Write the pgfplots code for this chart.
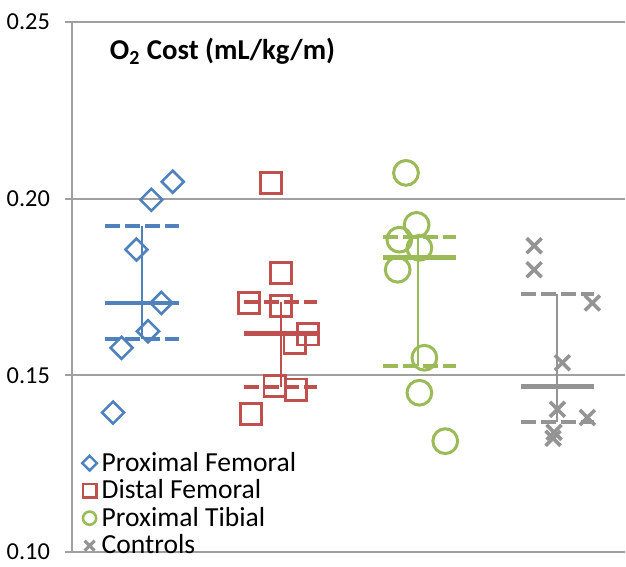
\documentclass[border=0pt]{standalone}
\usepackage{pgfplots}
\pgfplotsset{compat=1.18}
\usepackage{fontspec}
\setmainfont{Carlito}
\definecolor{cblue}{RGB}{79,129,189}
\definecolor{cred}{RGB}{192,80,77}
\definecolor{cgreen}{RGB}{155,187,89}
\definecolor{cgray}{RGB}{148,148,148}
\definecolor{gridc}{RGB}{160,160,160}
\begin{document}
\begin{tikzpicture}
\begin{axis}[
  scale only axis,
  width=277pt, height=265.5pt,
  xmin=0, xmax=4, ymin=0.10, ymax=0.25,
  xtick=\empty,
  ytick={0.10,0.15,0.20,0.25},
  yticklabel style={/pgf/number format/fixed,/pgf/number format/fixed zerofill,/pgf/number format/precision=2, font=\fontsize{12.2}{14}\selectfont, xshift=-4pt},
  /pgf/number format/assume math mode=true,
  axis y line*=left, axis x line*=bottom,
  axis line style={gridc, line width=1pt, -},
  ymajorgrids, grid style={gridc, line width=1pt},
  tick align=outside, major tick length=3.5pt,
  tick style={gridc, line width=1pt},
  ytick pos=left,
  clip=false,
  legend cell align=left,
  legend style={draw=none, fill=none, at={(rel axis cs:0.018,-0.017)}, anchor=south west, font=\fontsize{13.8}{15}\selectfont, row sep=-1.3pt, inner sep=0pt, nodes={inner xsep=2.4pt}},
]
\addplot[only marks, mark=square, mark size=3.9pt, mark options={rotate=45, draw=cblue, line width=1.3pt}, legend image post style={mark size=2.6pt, mark options={rotate=45, draw=cblue, line width=1.2pt}}] coordinates {
 (0.729,0.2048) (0.575,0.1997) (0.467,0.1856) (0.647,0.1705) (0.551,0.1625) (0.359,0.1578) (0.298,0.1395)
};
\addlegendentry{Proximal Femoral}
\addplot[only marks, mark=square, mark size=5.3pt, mark options={draw=cred, line width=1.4pt}, legend image post style={mark size=3.4pt, mark options={draw=cred, line width=1.2pt}}] coordinates {
 (1.442,0.2044) (1.514,0.1790) (1.280,0.1705) (1.514,0.1696) (1.706,0.1616) (1.610,0.1592) (1.466,0.1470) (1.622,0.1460) (1.297,0.1390)
};
\addlegendentry{Distal Femoral}
\addplot[only marks, mark=o, mark size=6.2pt, mark options={draw=cgreen, line width=1.5pt}, legend image post style={mark size=3.3pt, mark options={draw=cgreen, line width=1.3pt}}] coordinates {
 (2.416,0.2073) (2.493,0.1926) (2.368,0.1884) (2.513,0.1861) (2.356,0.1799) (2.549,0.1550) (2.513,0.1451) (2.700,0.1314)
};
\addlegendentry{Proximal Tibial}
\addplot[only marks, mark=x, mark size=5.3pt, mark options={draw=cgray, line width=1.8pt}, legend image post style={mark size=3.5pt, mark options={draw=cgray, line width=1.6pt}}] coordinates {
 (3.343,0.1867) (3.343,0.1799) (3.764,0.1705) (3.547,0.1536) (3.511,0.1404) (3.728,0.1381) (3.487,0.1339) (3.480,0.1322)
};
\addlegendentry{Controls}
% blue
\addplot[forget plot, cblue, line width=2pt, dash pattern=on 7.5pt off 2.5pt] coordinates {(0.238,0.1924) (0.773,0.1924)};
\addplot[forget plot, cblue, line width=2pt, dash pattern=on 7.5pt off 2.5pt] coordinates {(0.238,0.1602) (0.773,0.1602)};
\addplot[forget plot, cblue, line width=2.3pt] coordinates {(0.238,0.1705) (0.773,0.1705)};
\addplot[forget plot, cblue, line width=1pt] coordinates {(0.505,0.1602) (0.505,0.1924)};
% red
\addplot[forget plot, cred, line width=2pt, dash pattern=on 7.5pt off 2.5pt] coordinates {(1.242,0.1707) (1.776,0.1707)};
\addplot[forget plot, cred, line width=2pt, dash pattern=on 7.5pt off 2.5pt] coordinates {(1.242,0.1468) (1.776,0.1468)};
\addplot[forget plot, cred, line width=2.3pt] coordinates {(1.242,0.1618) (1.776,0.1618)};
\addplot[forget plot, cred, line width=1pt] coordinates {(1.509,0.1468) (1.509,0.1707)};
% green
\addplot[forget plot, cgreen, line width=2pt, dash pattern=on 7.5pt off 2.5pt] coordinates {(2.253,0.1891) (2.780,0.1891)};
\addplot[forget plot, cgreen, line width=2pt, dash pattern=on 7.5pt off 2.5pt] coordinates {(2.253,0.1528) (2.780,0.1528)};
\addplot[forget plot, cgreen, line width=2.3pt] coordinates {(2.253,0.1833) (2.780,0.1833)};
\addplot[forget plot, cgreen, line width=1pt] coordinates {(2.505,0.1528) (2.505,0.1891)};
% gray
\addplot[forget plot, cgray, line width=2pt, dash pattern=on 7.5pt off 2.5pt] coordinates {(3.249,0.1729) (3.776,0.1729)};
\addplot[forget plot, cgray, line width=2pt, dash pattern=on 7.5pt off 2.5pt] coordinates {(3.249,0.1369) (3.776,0.1369)};
\addplot[forget plot, cgray, line width=2.3pt] coordinates {(3.249,0.1468) (3.776,0.1468)};
\addplot[forget plot, cgray, line width=1pt] coordinates {(3.509,0.1369) (3.509,0.1729)};
\node[anchor=west, font=\fontsize{14.4}{16}\selectfont\bfseries, inner sep=0pt] at (rel axis cs:0.068,0.944) {O\textsubscript{2} Cost (mL/kg/m)};
\path (rel axis cs:0,0) ++(-36pt,-4.5pt) coordinate (bbA);
\path (rel axis cs:1,1) ++(0pt,11pt) coordinate (bbB);
\end{axis}
\useasboundingbox (bbA) rectangle (bbB);
\end{tikzpicture}
\end{document}
